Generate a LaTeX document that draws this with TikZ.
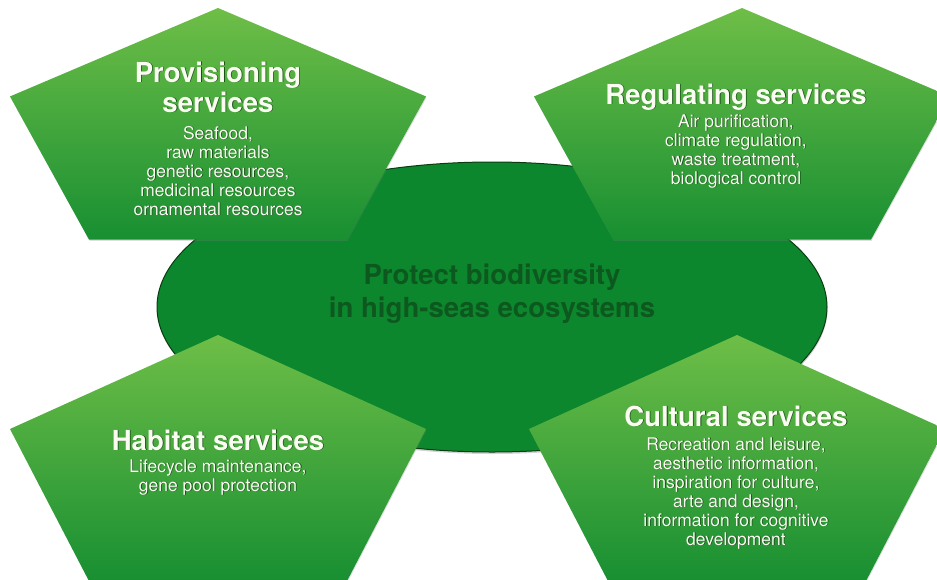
\documentclass[tikz,border=0pt]{standalone}
\usepackage{fontspec}
\setmainfont{TeX Gyre Heros}
\usetikzlibrary{shapes.geometric,shadows}

\definecolor{petaltop}{RGB}{110,190,71}
\definecolor{petalbottom}{RGB}{24,143,50}
\definecolor{hubgreen}{RGB}{12,135,45}
\definecolor{hubedge}{RGB}{10,60,18}
\definecolor{hubink}{RGB}{12,88,30}
\definecolor{lettershadow}{RGB}{25,80,25}
\definecolor{letterink}{RGB}{250,252,242}

% white lettering with a soft dark offset copy underneath
\newcommand\shtext[1]{\makebox[0pt][l]{\kern0.8pt\raisebox{-0.8pt}[0pt][0pt]{\textcolor{lettershadow}{#1}}}#1}

\begin{document}
\begin{tikzpicture}[x=1pt,y=-1pt,
  hubshape/.style={ellipse, draw=hubedge, line width=1pt, fill=hubgreen,
    minimum width=670pt, minimum height=290pt, inner sep=0pt,
    drop shadow={shadow xshift=0.5pt, shadow yshift=-2pt, opacity=0.35}},
  hubtitle/.style={align=center, text=hubink, inner sep=0pt, anchor=base,
    font=\fontsize{27.6}{33}\selectfont\bfseries},
  petalfill/.style={top color=petaltop, bottom color=petalbottom,
    drop shadow={shadow xshift=0.6pt, shadow yshift=-1.2pt, opacity=0.25}},
  petaltitle/.style={align=center, text=letterink, inner sep=0pt, anchor=base,
    font=\fontsize{27.6}{30}\selectfont\bfseries},
  petalbody/.style={align=center, text=letterink, inner sep=0pt, anchor=base,
    font=\fontsize{17.5}{19}\selectfont},
  petal/.pic={
    \path[petalfill] (0,{-#1}) -- (-208,{-0.309*#1}) -- (-129,{0.809*#1})
      -- (129,{0.809*#1}) -- (208,{-0.309*#1}) -- cycle;
  }
]
\useasboundingbox (0,0) rectangle (937,579);
\clip (0,0) rectangle (937,579);

% central goal (text nodes are placed by the baseline of their last line)
\node[hubshape] (hub) at (492,307) {};
\node[hubtitle] (hubtext) at (492,317) {Protect biodiversity\\in high-seas ecosystems};

% the four service groups
\pic (prov) at (218,136) {petal=128};
\pic (regu) at (742,136) {petal=128};
\pic (habi) at (218,471) {petal=136};
\pic (cult) at (737,471) {petal=136};

\node[petaltitle] (provtitle) at (218,112) {\shtext{Provisioning}\\\shtext{services}};
\node[petalbody] (provbody) at (218,215) {\shtext{Seafood,}\\\shtext{raw materials}\\\shtext{genetic resources,}\\\shtext{medicinal resources}\\\shtext{ornamental resources}};

\node[petaltitle] (regutitle) at (736,104) {\shtext{Regulating services}};
\node[petalbody] (regubody) at (736,184) {\shtext{Air purification,}\\\shtext{climate regulation,}\\\shtext{waste treatment,}\\\shtext{biological control}};

\node[petaltitle] (habititle) at (218,450) {\shtext{Habitat services}};
\node[petalbody] (habibody) at (218,491) {\shtext{Lifecycle maintenance,}\\\shtext{gene pool protection}};

\node[petaltitle] (culttitle) at (736,426) {\shtext{Cultural services}};
\node[petalbody] (cultbody) at (736,545) {\shtext{Recreation and leisure,}\\\shtext{aesthetic information,}\\\shtext{inspiration for culture,}\\\shtext{arte and design,}\\\shtext{information for cognitive}\\\shtext{development}};
\end{tikzpicture}
\end{document}
